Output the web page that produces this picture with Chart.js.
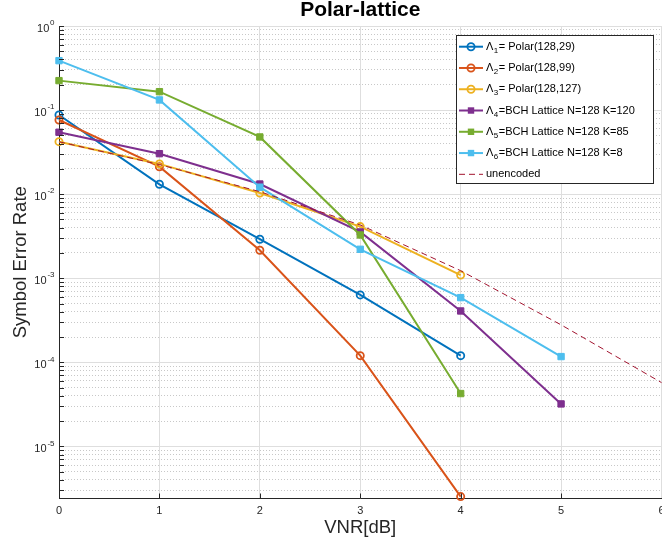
<!DOCTYPE html>
<html lang="en">
<head>
  <meta charset="UTF-8" />
  <title>Polar-lattice</title>
  <script src="https://cdn.jsdelivr.net/npm/chart.js"></script>
  <style>
    html, body {
      margin: 0;
      padding: 0;
      overflow: hidden;
      background: #fff;
    }

    #marco {
      width: 662px;
      height: 546px;
      overflow: hidden;
    }
  </style>
</head>
<body>
  <div id="marco">
    <canvas id="grafico" width="680" height="546"></canvas>
  </div>

  <script>
    // datos
    const vnr = [0, 1, 2, 3, 4, 5, 6];
    const polar29 = [0.0874, 0.0131, 0.00291, 6.33e-4, 1.20e-4];
    const polar99 = [0.0762, 0.0212, 0.00215, 1.20e-4, 2.53e-6];
    const polar127 = [0.0421, 0.0229, 0.0103, 0.00411, 0.00109];
    const bch120 = [0.0545, 0.0303, 0.0132, 0.00355, 4.08e-4, 3.2e-5];
    const bch85 = [0.224, 0.1655, 0.0479, 0.00327, 4.25e-5];
    const bch8 = [0.387, 0.132, 0.0121, 0.00221, 5.88e-4, 1.17e-4];
    const unencoded = [0.042, 0.0225, 0.0107, 0.0043, 0.00123, 2.79e-4, 5.74e-5];

    const exponentes = [0, -1, -2, -3, -4, -5];
    const yMin = 2.4e-6;
    const yMax = 1;

    const subindices = ['1', '2', '3', '4', '5', '6'];
    const textos = [
      '= Polar(128,29)',
      '= Polar(128,99)',
      '= Polar(128,127)',
      '=BCH Lattice N=128 K=120',
      '=BCH Lattice N=128 K=85',
      '=BCH Lattice N=128 K=8'
    ];

    const fam = '"Liberation Sans", Arial, Helvetica, sans-serif';
    const colores = ['#0072BD', '#D95319', '#EDB120', '#7E2F8E', '#77AC30', '#4DBEEE'];
    const rojo = '#A2142F';
    const ejeColor = '#262626';

    function log10(v) { return Math.log(v) / Math.LN10; }

    function esMayor(t) {
      if (!t) return false;
      const l = log10(t.value);
      return Math.abs(l - Math.round(l)) < 1e-6;
    }

    function esMenor(t) {
      if (!t || esMayor(t) || t.value <= yMin * 1.0001) return false;
      const m = t.value / Math.pow(10, Math.floor(log10(t.value) + 1e-9));
      return Math.abs(m - Math.round(m)) < 1e-6;
    }

    function serie(vals, color, circulo, orden) {
      return {
        data: vals.map((v, i) => ({ x: vnr[i], y: v })),
        borderColor: color,
        backgroundColor: color,
        borderWidth: 2,
        pointStyle: circulo ? 'circle' : 'rect',
        pointRadius: circulo ? 3.6 : 4.5,
        pointBorderWidth: circulo ? 1.8 : 1,
        pointBorderColor: color,
        pointBackgroundColor: circulo ? 'rgba(0,0,0,0)' : color,
        tension: 0,
        fill: false,
        clip: false,
        order: orden
      };
    }

    const datasets = [
      serie(polar29, colores[0], true, 10),
      serie(polar99, colores[1], true, 9),
      serie(polar127, colores[2], true, 8),
      serie(bch120, colores[3], false, 7),
      serie(bch85, colores[4], false, 6),
      serie(bch8, colores[5], false, 5),
      {
        data: unencoded.map((v, i) => ({ x: vnr[i], y: v })),
        borderColor: rojo,
        borderWidth: 1,
        borderDash: [6, 4],
        pointRadius: 0,
        tension: 0,
        fill: false,
        clip: false,
        order: 4
      }
    ];

    function marcador(ctx, circulo, color, x, y) {
      ctx.setLineDash([]);
      if (circulo) {
        ctx.beginPath();
        ctx.arc(x, y, 3.6, 0, Math.PI * 2);
        ctx.lineWidth = 1.8;
        ctx.strokeStyle = color;
        ctx.stroke();
      } else {
        ctx.fillStyle = color;
        ctx.fillRect(x - 3.2, y - 3.2, 6.4, 6.4);
      }
    }

    const ejesMatlab = {
      id: 'ejesMatlab',
      afterDraw(chart) {
        const ctx = chart.ctx;
        const ex = chart.scales.x;
        const ey = chart.scales.y;
        const a = chart.chartArea;
        ctx.save();

        // marcas hacia dentro
        ctx.strokeStyle = ejeColor;
        ctx.lineWidth = 1;
        ctx.beginPath();
        ey.ticks.forEach(t => {
          if (!esMayor(t) && !esMenor(t)) return;
          const py = Math.round(ey.getPixelForValue(t.value)) + 0.5;
          ctx.moveTo(a.left, py);
          ctx.lineTo(a.left + 5, py);
        });
        vnr.forEach(v => {
          const px = Math.round(ex.getPixelForValue(v)) + 0.5;
          ctx.moveTo(px, a.bottom);
          ctx.lineTo(px, a.bottom - 5);
        });
        ctx.stroke();

        // etiquetas 10^k
        ctx.fillStyle = ejeColor;
        ctx.textBaseline = 'middle';
        exponentes.forEach(e => {
          const py = ey.getPixelForValue(Math.pow(10, e));
          const sup = String(e);
          ctx.font = '8px ' + fam;
          const w = ctx.measureText(sup).width;
          ctx.textAlign = 'left';
          ctx.fillText(sup, 54.5 - w, py - 3);
          ctx.font = '11px ' + fam;
          ctx.textAlign = 'right';
          ctx.fillText('10', 54.5 - w - 0.8, py + 3);
        });

        // leyenda
        const lx = 456, ly = 35, lw = 197, lh = 148;
        ctx.fillStyle = '#fff';
        ctx.fillRect(lx, ly, lw, lh);
        ctx.strokeStyle = ejeColor;
        ctx.lineWidth = 1;
        ctx.strokeRect(lx + 0.5, ly + 0.5, lw, lh);

        chart.data.datasets.forEach((ds, i) => {
          const cy = 46.7 + i * 21.27;
          ctx.strokeStyle = ds.borderColor;
          ctx.lineWidth = ds.borderWidth;
          ctx.setLineDash(ds.borderDash || []);
          ctx.beginPath();
          ctx.moveTo(459, cy);
          ctx.lineTo(483, cy);
          ctx.stroke();
          ctx.setLineDash([]);
          if (i < 6) marcador(ctx, i < 3, ds.borderColor, 471, cy);

          ctx.fillStyle = '#000';
          ctx.textAlign = 'left';
          ctx.textBaseline = 'middle';
          if (i < 6) {
            ctx.font = '11px ' + fam;
            ctx.fillText('\u039B', 486, cy);
            let px = 486 + ctx.measureText('\u039B').width + 0.5;
            ctx.font = '8px ' + fam;
            ctx.fillText(subindices[i], px, cy + 4);
            px += ctx.measureText(subindices[i]).width + 0.5;
            ctx.font = '11px ' + fam;
            ctx.fillText(textos[i], px, cy);
          } else {
            ctx.font = '11px ' + fam;
            ctx.fillText('unencoded', 486, cy);
          }
        });

        ctx.restore();
      }
    };

    new Chart(document.getElementById('grafico'), {
      type: 'line',
      data: { datasets: datasets },
      plugins: [ejesMatlab],
      options: {
        responsive: false,
        animation: false,
        events: [],
        layout: { padding: { left: 0, right: 18.5, top: 0, bottom: 0 } },
        plugins: {
          legend: { display: false },
          tooltip: { enabled: false },
          title: {
            display: true,
            fullSize: false,
            text: 'Polar-lattice',
            color: '#000',
            font: { family: fam, size: 21, weight: 'bold', lineHeight: 1 },
            padding: { top: 0, bottom: 5 }
          }
        },
        scales: {
          x: {
            type: 'linear',
            min: 0,
            max: 6,
            ticks: {
              stepSize: 1,
              color: ejeColor,
              font: { family: fam, size: 11 },
              padding: 6,
              maxRotation: 0
            },
            grid: { color: '#dedede', drawTicks: false },
            border: { color: ejeColor, width: 1 },
            title: {
              display: true,
              text: 'VNR[dB]',
              color: ejeColor,
              font: { family: fam, size: 18.5 },
              padding: { top: 0, bottom: 6.9 }
            },
            afterFit: s => { s.height = 47.5; }
          },
          y: {
            type: 'logarithmic',
            position: 'left',
            min: yMin,
            max: yMax,
            ticks: { display: false },
            grid: {
              color: c => esMayor(c.tick) ? '#dedede' : 'rgba(0,0,0,0)',
              drawTicks: false
            },
            border: { color: ejeColor, width: 1 },
            title: {
              display: true,
              text: 'Symbol Error Rate',
              color: ejeColor,
              font: { family: fam, size: 18.5 },
              padding: { top: 9.4, bottom: 0 }
            },
            afterFit: s => { s.width = 59; }
          },
          y2: {
            type: 'logarithmic',
            position: 'left',
            min: yMin,
            max: yMax,
            ticks: { display: false },
            grid: {
              color: c => esMenor(c.tick) ? '#c8c8c8' : 'rgba(0,0,0,0)',
              drawTicks: false
            },
            border: { display: false, dash: [1, 2] },
            afterFit: s => { s.width = 0; }
          }
        }
      }
    });
  </script>
</body>
</html>
